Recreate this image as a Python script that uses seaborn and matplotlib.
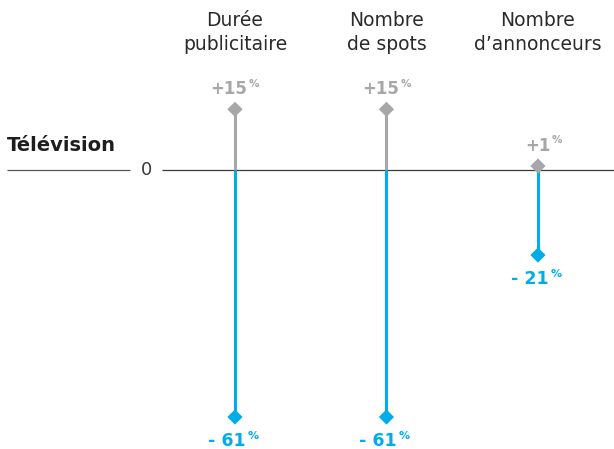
import matplotlib
matplotlib.use("Agg")
import matplotlib.pyplot as plt
import seaborn as sns
import pandas as pd

# Data
categories = ["Durée\npublicitaire", "Nombre\nde spots", "Nombre\nd\u2019annonceurs"]
hausse = [15, 15, 1]
baisse = [-61, -61, -21]
hausse_labels = ["+15", "+15", "+1"]
baisse_labels = ["- 61", "- 61", "- 21"]

GRAY = "#a7a7a9"
BLUE = "#00ade9"
DARK = "#3a3a3a"

sns.set_theme(style="white")
plt.rcParams["font.family"] = ["DejaVu Sans"]

df = pd.DataFrame({
    "pos": list(range(len(categories))) * 2,
    "val": hausse + baisse,
    "sens": ["hausse"] * len(hausse) + ["baisse"] * len(baisse),
})

XLIM = (-1.551, 2.502)
YLIM = (-68.9, 42.0)

fig = plt.figure(figsize=(6.14, 4.49), dpi=100)
ax = fig.add_axes([0, 0, 1, 1])
ax.axis("off")

# zero baseline, interrupted by its label
ax.plot([-1.505, -0.69], [0, 0], color="#555555", lw=0.9, solid_capstyle="butt")
ax.plot([-0.48, 2.502], [0, 0], color=DARK, lw=0.9, solid_capstyle="butt")
ax.text(-0.585, 0, "0", ha="center", va="center", fontsize=13, color=DARK)
ax.text(-1.505, 6.0, "Télévision", ha="left", va="center", fontsize=14,
        fontweight="bold", color="#1e1e1e")

# stems
for i in range(len(categories)):
    ax.vlines(i, 0, hausse[i], color=GRAY, lw=2.2, zorder=2)
    ax.vlines(i, 0, baisse[i], color=BLUE, lw=2.2, zorder=2)

sns.scatterplot(data=df, x="pos", y="val", hue="sens",
                palette={"hausse": GRAY, "baisse": BLUE},
                marker="D", s=60, edgecolor="none", legend=False, ax=ax, zorder=3)
ax.set_xlim(*XLIM)
ax.set_ylim(*YLIM)
ax.axis("off")

# value labels
for i in range(len(categories)):
    ax.annotate(hausse_labels[i], (i, hausse[i]), xytext=(9, 14.5),
                textcoords="offset points", ha="right", va="center",
                fontsize=12, fontweight="bold", color=GRAY)
    ax.annotate("%", (i, hausse[i]), xytext=(10, 18.5),
                textcoords="offset points", ha="left", va="center",
                fontsize=7.5, fontweight="bold", color=GRAY)
    ax.annotate(baisse_labels[i], (i, baisse[i]), xytext=(7.5, -17.5),
                textcoords="offset points", ha="right", va="center",
                fontsize=12.5, fontweight="bold", color=BLUE)
    ax.annotate("%", (i, baisse[i]), xytext=(9, -13.5),
                textcoords="offset points", ha="left", va="center",
                fontsize=8, fontweight="bold", color=BLUE)

# column headers
for i, cat in enumerate(categories):
    ax.text(i, 33.95, cat, ha="center", va="center", fontsize=13.5,
            color="#2a2a2a", linespacing=1.38)

fig.savefig("out.png", dpi=100)
